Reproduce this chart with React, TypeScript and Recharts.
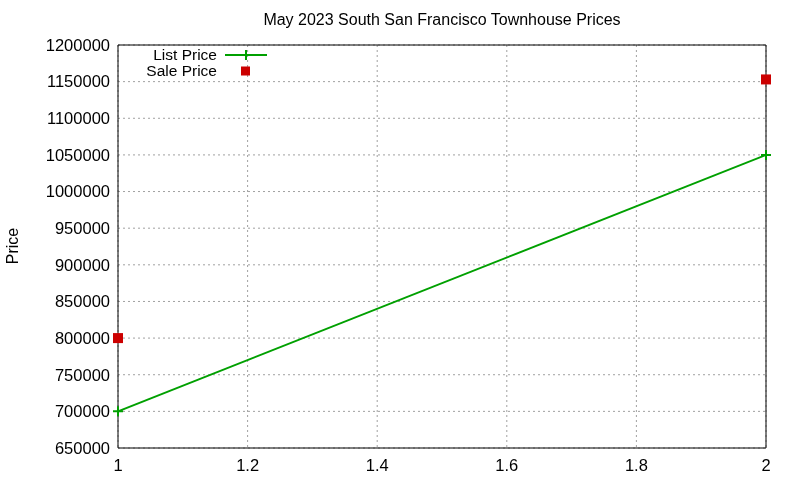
import React from 'react';
import {
  ComposedChart,
  Line,
  XAxis,
  YAxis,
  CartesianGrid,
  ReferenceLine,
} from 'recharts';

const xValues = [1, 2];
const listPrices = [700000, 1050000];
const salePrices = [800000, 1153000];
const xTicks = [1, 1.2, 1.4, 1.6, 1.8, 2];
const yTicks = [650000, 700000, 750000, 800000, 850000, 900000, 950000, 1000000, 1050000, 1100000, 1150000, 1200000];

const GREEN = '#00a000';
const RED = '#cc0000';
const FONT = '"Liberation Sans", Arial, sans-serif';

const data = xValues.map((x, i) => ({ x, list: listPrices[i], sale: salePrices[i] }));

const PlusDot = (props: any) => {
  const { cx, cy, index } = props;
  if (cx == null || cy == null) return <g key={`p-${index}`} />;
  return (
    <path
      key={`p-${index}`}
      d={`M${cx - 5},${cy}H${cx + 5}M${cx},${cy - 5}V${cy + 5}`}
      stroke={GREEN}
      strokeWidth={2}
    />
  );
};

const SquareDot = (props: any) => {
  const { cx, cy, index } = props;
  if (cx == null || cy == null) return <g key={`s-${index}`} />;
  return <rect key={`s-${index}`} x={cx - 5} y={cy - 5} width={10} height={10} fill={RED} />;
};

// legend drawn as an overlay so it doesn't eat into the plot area
const LegendBox = () => (
  <div style={{ position: 'absolute', top: 47, left: 100, fontFamily: FONT, fontSize: 15.5, color: '#000', lineHeight: '16px' }}>
    <div style={{ display: 'flex', alignItems: 'center', height: 16 }}>
      <span style={{ width: 117, textAlign: 'right' }}>List Price</span>
      <svg width={50} height={16} style={{ marginLeft: 8 }}>
        <path d="M0,8H42M21,3V13" stroke={GREEN} strokeWidth={2} />
      </svg>
    </div>
    <div style={{ display: 'flex', alignItems: 'center', height: 16 }}>
      <span style={{ width: 117, textAlign: 'right' }}>Sale Price</span>
      <svg width={50} height={16} style={{ marginLeft: 8 }}>
        <rect x={16} y={3.5} width={9} height={9} fill={RED} />
      </svg>
    </div>
  </div>
);

const PriceLabel = () => (
  <text
    x={18}
    y={246}
    transform="rotate(-90, 18, 246)"
    textAnchor="middle"
    fontFamily={FONT}
    fontSize={16}
    fill="#000"
  >
    Price
  </text>
);

export default function App() {
  return (
    <div style={{ position: 'fixed', left: 0, top: 0, width: 800, height: 480, background: '#fff' }}>
      <div
        style={{
          position: 'absolute',
          top: 11,
          left: 0,
          width: 884,
          textAlign: 'center',
          fontFamily: FONT,
          fontSize: 16,
          color: '#000',
        }}
      >
        May 2023 South San Francisco Townhouse Prices
      </div>
      <ComposedChart
        width={800}
        height={480}
        data={data}
        margin={{ top: 45, right: 34, left: 30, bottom: 12 }}
      >
        <CartesianGrid stroke="#a0a0a0" strokeDasharray="2 3" />
        <XAxis
          dataKey="x"
          type="number"
          domain={[1, 2]}
          ticks={xTicks}
          tickFormatter={(v: number) => String(Math.round(v * 10) / 10)}
          height={20}
          tickLine={false}
          tickMargin={5}
          axisLine={{ stroke: '#000' }}
          tick={{ fill: '#000', fontFamily: FONT, fontSize: 16.5 }}
        />
        <YAxis
          type="number"
          domain={[650000, 1200000]}
          ticks={yTicks}
          width={88}
          tickLine={false}
          axisLine={{ stroke: '#000' }}
          tick={{ fill: '#000', fontFamily: FONT, fontSize: 16.5 }}
          label={<PriceLabel />}
        />
        <ReferenceLine y={1200000} stroke="#000" />
        <ReferenceLine x={2} stroke="#000" />
        <Line
          dataKey="list"
          name="List Price"
          stroke={GREEN}
          strokeWidth={2}
          dot={PlusDot}
          isAnimationActive={false}
        />
        <Line
          dataKey="sale"
          name="Sale Price"
          stroke="none"
          dot={SquareDot}
          isAnimationActive={false}
        />
      </ComposedChart>
      <LegendBox />
    </div>
  );
}
